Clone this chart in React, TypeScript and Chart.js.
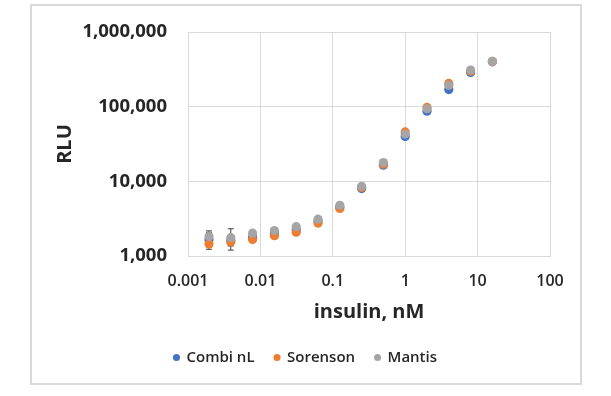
import React, { useEffect, useRef } from "react";
import { Chart, registerables } from "chart.js";

Chart.register(...registerables);

const insulinNM = [0.00195, 0.0039, 0.0078, 0.0156, 0.03125, 0.0625, 0.125, 0.25, 0.5, 1, 2, 4, 8, 16];
const combiNL = [1650, 1620, 1780, 2000, 2250, 2900, 4500, 8000, 16500, 40000, 87000, 170000, 288000, 400000];
const sorenson = [1450, 1540, 1670, 1870, 2080, 2760, 4330, 8300, 17000, 46000, 98000, 205000, 300000, 405000];
const mantis = [1830, 1760, 2020, 2190, 2470, 3110, 4770, 8600, 17900, 43000, 94000, 194000, 310000, 406000];
const combiErr = [420, 250, 0, 0, 0, 0, 0, 0, 0, 0, 0, 0, 0, 0];
const sorensonErr = [0, 170, 0, 0, 0, 0, 0, 0, 0, 0, 0, 0, 0, 0];
const mantisErr = [340, 560, 0, 0, 0, 0, 0, 0, 1200, 0, 0, 0, 0, 0];

const xTicks = [0.001, 0.01, 0.1, 1, 10, 100];
const xTickLabels = ["0.001", "0.01", "0.1", "1", "10", "100"];
const yTicks = [1000, 10000, 100000, 1000000];
const yTickLabels = ["1,000", "10,000", "100,000", "1,000,000"];

const seriesNames = ["Combi nL", "Sorenson", "Mantis"];
const seriesColors = ["#4472C4", "#ED7D31", "#A5A5A5"];

const FONT = "'Open Sans', 'Liberation Sans', sans-serif";
const TEXT = "#262626";
const GRID = "#d9d9d9";

const errorBars = {
  id: "errorBars",
  beforeDatasetsDraw(chart: any) {
    const { ctx, scales } = chart;
    const xs = scales.x;
    const ys = scales.y;
    ctx.save();
    ctx.strokeStyle = "#404040";
    ctx.lineWidth = 1;
    chart.data.datasets.forEach((ds: any) => {
      const errs: number[] = ds.errors || [];
      ds.data.forEach((p: any, i: number) => {
        const e = errs[i];
        if (!e) return;
        const x = xs.getPixelForValue(p.x);
        const yTop = ys.getPixelForValue(p.y + e);
        const yBot = ys.getPixelForValue(Math.max(p.y - e, 1));
        ctx.beginPath();
        ctx.moveTo(x, yTop);
        ctx.lineTo(x, yBot);
        ctx.moveTo(x - 3, yTop);
        ctx.lineTo(x + 3, yTop);
        ctx.moveTo(x - 3, yBot);
        ctx.lineTo(x + 3, yBot);
        ctx.stroke();
      });
    });
    ctx.restore();
  },
};

export default function App() {
  const ref = useRef<HTMLCanvasElement | null>(null);

  useEffect(() => {
    document.body.style.margin = "0";
    const series = [combiNL, sorenson, mantis];
    const errs = [combiErr, sorensonErr, mantisErr];
    const chart = new Chart(ref.current as HTMLCanvasElement, {
      type: "scatter",
      data: {
        datasets: series.map((vals, k) => ({
          label: seriesNames[k],
          data: insulinNM.map((x, i) => ({ x, y: vals[i] })),
          errors: errs[k],
          backgroundColor: seriesColors[k],
          borderColor: seriesColors[k],
          borderWidth: 0,
          pointRadius: 4.6,
          pointHoverRadius: 4.6,
          showLine: false,
          order: 3 - k,
        })) as any,
      },
      options: {
        animation: false,
        responsive: false,
        devicePixelRatio: 1,
        events: [],
        layout: { padding: { left: 53, right: 53, top: 26, bottom: 21 } },
        plugins: {
          tooltip: { enabled: false },
          legend: {
            position: "bottom",
            align: "center",
            labels: {
              usePointStyle: true,
              pointStyle: "circle",
              boxWidth: 5,
              boxHeight: 5,
              padding: 20,
              color: TEXT,
              font: { family: FONT, size: 15, weight: "600" },
              sort: (a: any, b: any) => a.datasetIndex - b.datasetIndex,
            },
          },
        },
        scales: {
          x: {
            type: "logarithmic",
            min: 0.001,
            max: 100,
            afterBuildTicks: (s: any) => {
              s.ticks = xTicks.map((v) => ({ value: v, major: true }));
            },
            afterFit: (s: any) => {
              s.height = 74;
            },
            ticks: {
              autoSkip: false,
              maxRotation: 0,
              padding: 16,
              color: TEXT,
              font: { family: FONT, size: 16, weight: "600" },
              callback: (_v: any, i: number) => xTickLabels[i],
            },
            grid: { color: GRID, lineWidth: 1, drawTicks: false },
            border: { color: GRID, width: 1 },
            title: {
              display: true,
              text: "insulin, nM",
              color: TEXT,
              font: { family: FONT, size: 20, weight: "bold" },
              padding: { top: 0, bottom: 6 },
            },
          },
          y: {
            type: "logarithmic",
            min: 1000,
            max: 1000000,
            afterBuildTicks: (s: any) => {
              s.ticks = yTicks.map((v) => ({ value: v, major: true }));
            },
            afterFit: (s: any) => {
              s.width = 135;
            },
            ticks: {
              autoSkip: false,
              padding: 21,
              color: TEXT,
              font: { family: FONT, size: 18.5, weight: "bold" },
              callback: (_v: any, i: number) => yTickLabels[i],
            },
            grid: { color: GRID, lineWidth: 1, drawTicks: false },
            border: { color: GRID, width: 1 },
            title: {
              display: true,
              text: "RLU",
              color: TEXT,
              font: { family: FONT, size: 20, weight: "bold" },
              padding: { top: 0, bottom: 0 },
            },
          },
          spacer: {
            type: "linear",
            position: "right",
            display: true,
            afterFit: (s: any) => {
              s.width = 8;
            },
            ticks: { display: false },
            grid: { display: false, drawTicks: false },
            border: { display: false },
            title: { display: false },
          },
        },
      },
      plugins: [errorBars],
    });
    return () => chart.destroy();
  }, []);

  return (
    <div style={{ position: "relative", width: 611, height: 396, background: "#fff" }}>
      <div
        style={{
          position: "absolute",
          left: 30,
          top: 4,
          width: 548,
          height: 377,
          border: "2px solid #d9d9d9",
        }}
      />
      <canvas
        ref={ref}
        width={611}
        height={396}
        style={{ position: "absolute", left: 0, top: 0, width: 611, height: 396 }}
      />
    </div>
  );
}
